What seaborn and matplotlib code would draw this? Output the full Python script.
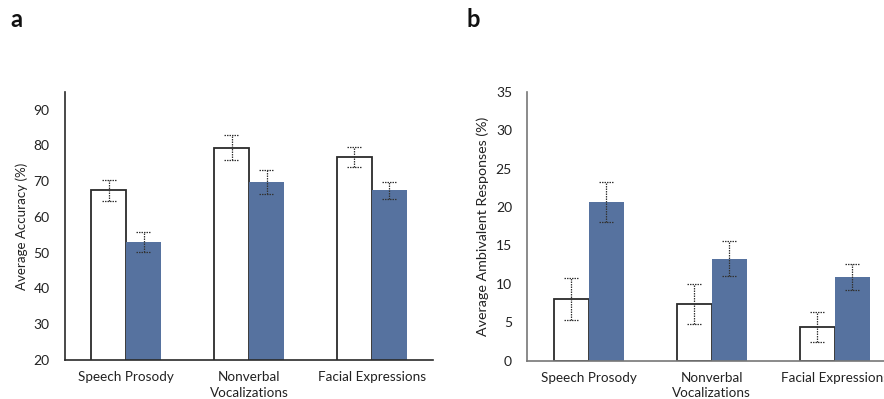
import matplotlib
matplotlib.use("Agg")
import matplotlib.pyplot as plt
import seaborn as sns
import pandas as pd
import numpy as np

categories = ["Speech Prosody", "Nonverbal\nVocalizations", "Facial Expressions"]
conditions = ["Condition 1", "Condition 2"]

acc_white = [67.4, 79.4, 76.8]
acc_white_err = [3.0, 3.6, 2.8]
acc_blue = [52.9, 69.8, 67.4]
acc_blue_err = [2.8, 3.3, 2.4]

amb_white = [8.0, 7.4, 4.4]
amb_white_err = [2.75, 2.6, 1.95]
amb_blue = [20.6, 13.3, 10.9]
amb_blue_err = [2.6, 2.3, 1.7]

sns.set_theme(style="white")
plt.rcParams["font.family"] = ["Lato", "DejaVu Sans"]

BLUE = "#56729f"
EDGE = "#2b2b2b"

fig = plt.figure(figsize=(8.84, 3.99), dpi=100)
ax_a = fig.add_axes([0.0735, 0.0977, 0.4165, 0.6723])
ax_b = fig.add_axes([0.5965, 0.096, 0.4171, 0.674])


def panel(ax, white, white_err, blue, blue_err, ylim, yticks, ylabel, spine_color,
          ylabel_size, ylabel_x):
    df = pd.DataFrame({
        "category": categories * 2,
        "condition": [conditions[0]] * 3 + [conditions[1]] * 3,
        "value": list(white) + list(blue),
    })
    sns.barplot(data=df, x="category", y="value", hue="condition",
                order=categories, hue_order=conditions,
                palette=["white", BLUE], width=0.57, gap=0,
                errorbar=None, legend=False, ax=ax, saturation=1)
    errs = list(white_err) + list(blue_err)
    vals = list(white) + list(blue)
    patches = ax.patches[:6]
    for i, p in enumerate(patches):
        if i < 3:
            p.set_edgecolor(EDGE)
            p.set_linewidth(1.3)
        else:
            p.set_edgecolor("none")
        p.set_zorder(2)
    ls = (0, (1.2, 0.8))
    for p, v, e in zip(patches, vals, errs):
        xc = p.get_x() + p.get_width() / 2
        ax.vlines(xc, v - e, v + e, colors="#333333", linestyles=ls, linewidth=0.9, zorder=3)
        half = p.get_width() * 0.21
        ax.hlines([v - e, v + e], xc - half, xc + half, colors="#333333",
                  linestyles=ls, linewidth=0.9, zorder=3)
    ax.set_xlim(-0.5, 2.5)
    ax.set_ylim(*ylim)
    ax.set_yticks(yticks)
    ax.set_xlabel("")
    ax.set_ylabel(ylabel, fontsize=ylabel_size, color="#222222")
    ax.yaxis.label.set_va("center")
    ax.yaxis.set_label_coords(ylabel_x, 0.5)
    ax.tick_params(axis="y", length=0, pad=11, labelsize=10, labelcolor="#222222")
    ax.tick_params(axis="x", length=0, pad=8, labelsize=9.7, labelcolor="#222222")
    for lab in ax.get_xticklabels():
        lab.set_verticalalignment("top")
        lab.set_linespacing(1.35)
    for s in ["top", "right"]:
        ax.spines[s].set_visible(False)
    for s in ["left", "bottom"]:
        ax.spines[s].set_color(spine_color)
        ax.spines[s].set_linewidth(1.2)
    ax.grid(False)


panel(ax_a, acc_white, acc_white_err, acc_blue, acc_blue_err,
      (20, 95), [20, 30, 40, 50, 60, 70, 80, 90], "Average Accuracy (%)", "#2a2a2a",
      9.6, -0.118)
panel(ax_b, amb_white, amb_white_err, amb_blue, amb_blue_err,
      (0, 35), [0, 5, 10, 15, 20, 25, 30, 35], "Average Ambivalent Responses (%)", "#777777",
      10.3, -0.121)

fig.text(0.012, 0.95, "a", fontsize=17, fontweight="bold", ha="left", va="center", color="#111111")
fig.text(0.528, 0.95, "b", fontsize=17, fontweight="bold", ha="left", va="center", color="#111111")

fig.savefig("out.png", dpi=100)
